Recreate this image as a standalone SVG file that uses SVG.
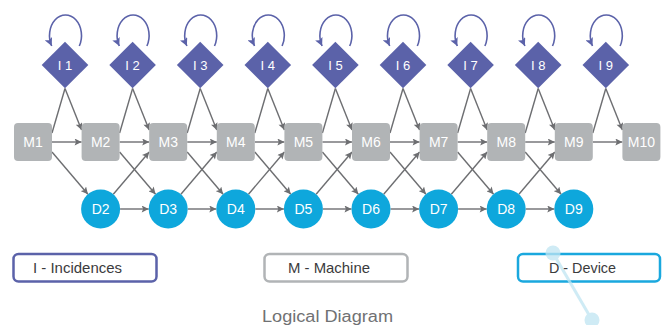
<svg xmlns="http://www.w3.org/2000/svg" width="665" height="325" viewBox="0 0 665 325">
<style>
.m{fill:#b1b4b6}
.d{fill:#0ea7dc}
.i{fill:#5b62a9}
.lbl{font-family:"Liberation Sans",Arial,sans-serif;fill:#fff;text-anchor:middle;font-size:14px}
.ilbl{font-family:"Liberation Sans",Arial,sans-serif;fill:#fff;text-anchor:middle;font-size:13px}
.c{fill:none;stroke:#6d6e71;stroke-width:1.4;marker-end:url(#ah)}
.cl{fill:none;stroke:#6d6e71;stroke-width:1.4}
.loop{fill:none;stroke:#5b62a9;stroke-width:1.6;marker-end:url(#ahp)}
.leg{fill:#fff;stroke-width:2.5}
.legt{font-family:"Liberation Sans",Arial,sans-serif;fill:#3b3b3d;font-size:15px;text-anchor:middle}
</style>
<defs>
<marker id="ah" viewBox="0 0 10 10" refX="10" refY="5" markerWidth="8" markerHeight="7" markerUnits="userSpaceOnUse" orient="auto"><path d="M0,0 L10,5 L0,10 L2,5 z" fill="#6d6e71"/></marker>
<marker id="ahp" viewBox="0 0 10 10" refX="10" refY="5" markerWidth="8" markerHeight="8" markerUnits="userSpaceOnUse" orient="auto"><path d="M0,0 L10,5 L0,10 L2,5 z" fill="#5b62a9"/></marker>
</defs>
<rect width="665" height="325" fill="#fff"/>
<g id="connectors">
<path class="loop" d="M79.3,46 A16 20.6 0 1 0 51.7,46"/>
<path class="loop" d="M146.9,46 A16 20.6 0 1 0 119.3,46"/>
<path class="loop" d="M214.5,46 A16 20.6 0 1 0 186.9,46"/>
<path class="loop" d="M282.1,46 A16 20.6 0 1 0 254.5,46"/>
<path class="loop" d="M349.7,46 A16 20.6 0 1 0 322.1,46"/>
<path class="loop" d="M417.3,46 A16 20.6 0 1 0 389.7,46"/>
<path class="loop" d="M484.9,46 A16 20.6 0 1 0 457.3,46"/>
<path class="loop" d="M552.5,46 A16 20.6 0 1 0 524.9,46"/>
<path class="loop" d="M620.1,46 A16 20.6 0 1 0 592.5,46"/>
<path class="cl" d="M52,133 l13,-44.5"/>
<path class="cl" d="M119.6,133 l13,-44.5"/>
<path class="cl" d="M187.2,133 l13,-44.5"/>
<path class="cl" d="M254.8,133 l13,-44.5"/>
<path class="cl" d="M322.4,133 l13,-44.5"/>
<path class="cl" d="M390,133 l13,-44.5"/>
<path class="cl" d="M457.6,133 l13,-44.5"/>
<path class="cl" d="M525.2,133 l13,-44.5"/>
<path class="cl" d="M592.8,133 l13,-44.5"/>
<path class="c" d="M65,88.5 l16.6,41.5"/>
<path class="c" d="M132.6,88.5 l16.6,41.5"/>
<path class="c" d="M200.2,88.5 l16.6,41.5"/>
<path class="c" d="M267.8,88.5 l16.6,41.5"/>
<path class="c" d="M335.4,88.5 l16.6,41.5"/>
<path class="c" d="M403,88.5 l16.6,41.5"/>
<path class="c" d="M470.6,88.5 l16.6,41.5"/>
<path class="c" d="M538.2,88.5 l16.6,41.5"/>
<path class="c" d="M605.8,88.5 l16.6,41.5"/>
<path class="c" d="M52,142 h29.6"/>
<path class="c" d="M119.6,142 h29.6"/>
<path class="c" d="M187.2,142 h29.6"/>
<path class="c" d="M254.8,142 h29.6"/>
<path class="c" d="M322.4,142 h29.6"/>
<path class="c" d="M390,142 h29.6"/>
<path class="c" d="M457.6,142 h29.6"/>
<path class="c" d="M525.2,142 h29.6"/>
<path class="c" d="M592.8,142 h29.6"/>
<path class="c" d="M52,152 l35.95,42.2"/>
<path class="c" d="M119.6,152 l35.95,42.2"/>
<path class="c" d="M187.2,152 l35.95,42.2"/>
<path class="c" d="M254.8,152 l35.95,42.2"/>
<path class="c" d="M322.4,152 l35.95,42.2"/>
<path class="c" d="M390,152 l35.95,42.2"/>
<path class="c" d="M457.6,152 l35.95,42.2"/>
<path class="c" d="M525.2,152 l35.95,42.2"/>
<path class="c" d="M113.3,194.2 l35.9,-42.2"/>
<path class="c" d="M180.9,194.2 l35.9,-42.2"/>
<path class="c" d="M248.5,194.2 l35.9,-42.2"/>
<path class="c" d="M316.1,194.2 l35.9,-42.2"/>
<path class="c" d="M383.7,194.2 l35.9,-42.2"/>
<path class="c" d="M451.3,194.2 l35.9,-42.2"/>
<path class="c" d="M518.9,194.2 l35.9,-42.2"/>
<path class="c" d="M120.1,209 h28.6"/>
<path class="c" d="M187.7,209 h28.6"/>
<path class="c" d="M255.3,209 h28.6"/>
<path class="c" d="M322.9,209 h28.6"/>
<path class="c" d="M390.5,209 h28.6"/>
<path class="c" d="M458.1,209 h28.6"/>
<path class="c" d="M525.7,209 h28.6"/>
</g>
<g id="I1" transform="translate(65,65)"><polygon class="i" points="0,-23.3 23.3,0 0,23.3 -23.3,0"/><text class="ilbl" y="4.7">I 1</text></g>
<g id="I2" transform="translate(132.6,65)"><polygon class="i" points="0,-23.3 23.3,0 0,23.3 -23.3,0"/><text class="ilbl" y="4.7">I 2</text></g>
<g id="I3" transform="translate(200.2,65)"><polygon class="i" points="0,-23.3 23.3,0 0,23.3 -23.3,0"/><text class="ilbl" y="4.7">I 3</text></g>
<g id="I4" transform="translate(267.8,65)"><polygon class="i" points="0,-23.3 23.3,0 0,23.3 -23.3,0"/><text class="ilbl" y="4.7">I 4</text></g>
<g id="I5" transform="translate(335.4,65)"><polygon class="i" points="0,-23.3 23.3,0 0,23.3 -23.3,0"/><text class="ilbl" y="4.7">I 5</text></g>
<g id="I6" transform="translate(403,65)"><polygon class="i" points="0,-23.3 23.3,0 0,23.3 -23.3,0"/><text class="ilbl" y="4.7">I 6</text></g>
<g id="I7" transform="translate(470.6,65)"><polygon class="i" points="0,-23.3 23.3,0 0,23.3 -23.3,0"/><text class="ilbl" y="4.7">I 7</text></g>
<g id="I8" transform="translate(538.2,65)"><polygon class="i" points="0,-23.3 23.3,0 0,23.3 -23.3,0"/><text class="ilbl" y="4.7">I 8</text></g>
<g id="I9" transform="translate(605.8,65)"><polygon class="i" points="0,-23.3 23.3,0 0,23.3 -23.3,0"/><text class="ilbl" y="4.7">I 9</text></g>
<g id="M1" transform="translate(33,142)"><rect class="m" x="-19" y="-19" width="38" height="38" rx="4"/><text class="lbl" y="5">M1</text></g>
<g id="M2" transform="translate(100.6,142)"><rect class="m" x="-19" y="-19" width="38" height="38" rx="4"/><text class="lbl" y="5">M2</text></g>
<g id="M3" transform="translate(168.2,142)"><rect class="m" x="-19" y="-19" width="38" height="38" rx="4"/><text class="lbl" y="5">M3</text></g>
<g id="M4" transform="translate(235.8,142)"><rect class="m" x="-19" y="-19" width="38" height="38" rx="4"/><text class="lbl" y="5">M4</text></g>
<g id="M5" transform="translate(303.4,142)"><rect class="m" x="-19" y="-19" width="38" height="38" rx="4"/><text class="lbl" y="5">M5</text></g>
<g id="M6" transform="translate(371,142)"><rect class="m" x="-19" y="-19" width="38" height="38" rx="4"/><text class="lbl" y="5">M6</text></g>
<g id="M7" transform="translate(438.6,142)"><rect class="m" x="-19" y="-19" width="38" height="38" rx="4"/><text class="lbl" y="5">M7</text></g>
<g id="M8" transform="translate(506.2,142)"><rect class="m" x="-19" y="-19" width="38" height="38" rx="4"/><text class="lbl" y="5">M8</text></g>
<g id="M9" transform="translate(573.8,142)"><rect class="m" x="-19" y="-19" width="38" height="38" rx="4"/><text class="lbl" y="5">M9</text></g>
<g id="M10" transform="translate(641.4,142)"><rect class="m" x="-19" y="-19" width="38" height="38" rx="4"/><text class="lbl" y="5">M10</text></g>
<g id="D2" transform="translate(100.6,209)"><circle class="d" r="19.5"/><text class="lbl" y="5">D2</text></g>
<g id="D3" transform="translate(168.2,209)"><circle class="d" r="19.5"/><text class="lbl" y="5">D3</text></g>
<g id="D4" transform="translate(235.8,209)"><circle class="d" r="19.5"/><text class="lbl" y="5">D4</text></g>
<g id="D5" transform="translate(303.4,209)"><circle class="d" r="19.5"/><text class="lbl" y="5">D5</text></g>
<g id="D6" transform="translate(371,209)"><circle class="d" r="19.5"/><text class="lbl" y="5">D6</text></g>
<g id="D7" transform="translate(438.6,209)"><circle class="d" r="19.5"/><text class="lbl" y="5">D7</text></g>
<g id="D8" transform="translate(506.2,209)"><circle class="d" r="19.5"/><text class="lbl" y="5">D8</text></g>
<g id="D9" transform="translate(573.8,209)"><circle class="d" r="19.5"/><text class="lbl" y="5">D9</text></g>
<g id="legend-I"><rect class="leg" x="13.5" y="254" width="143" height="27.5" rx="5" stroke="#5b62a9"/><text class="legt" x="77.5" y="272.5" textLength="89" lengthAdjust="spacingAndGlyphs">I - Incidences</text></g>
<g id="legend-M"><rect class="leg" x="264.5" y="254" width="143" height="27.5" rx="5" stroke="#b1b4b6"/><text class="legt" x="329" y="272.5" textLength="82" lengthAdjust="spacingAndGlyphs">M - Machine</text></g>
<g id="legend-D"><rect class="leg" x="518" y="254" width="142" height="27.5" rx="5" stroke="#1aa8de"/>
<g opacity="0.75" fill="#bfe5f2"><line x1="553" y1="253" x2="592" y2="320" stroke="#bfe5f2" stroke-width="3"/><circle cx="553" cy="253" r="7.5"/><circle cx="592" cy="320" r="7.5"/></g>
<text class="legt" x="582.5" y="272.5" textLength="67" lengthAdjust="spacingAndGlyphs">D - Device</text></g>
<text x="327.5" y="322" font-family="'Liberation Sans',Arial,sans-serif" font-size="16" fill="#707173" text-anchor="middle" textLength="131" lengthAdjust="spacingAndGlyphs">Logical Diagram</text>
</svg>
